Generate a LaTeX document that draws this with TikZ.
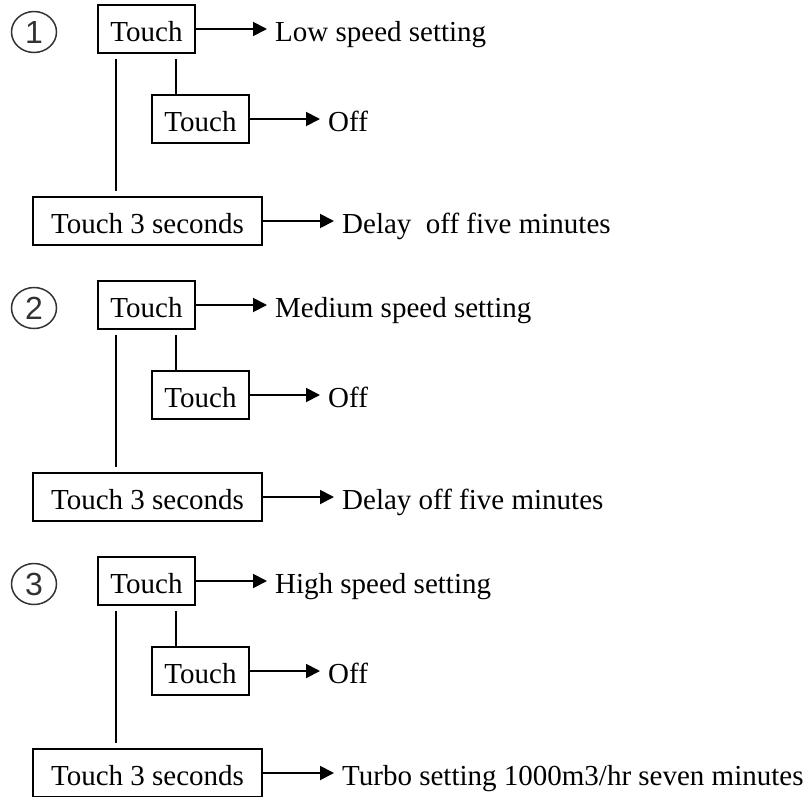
\documentclass[tikz,border=0pt]{standalone}
\usepackage{fontspec}
\setmainfont{Liberation Serif}
\newfontfamily\numfont{Liberation Sans}
\usetikzlibrary{arrows.meta,calc,shapes.geometric}
\newcommand\drawsec[5]{%
  \begin{scope}[shift={(0,#1)}]
    \node[num] (c#2) at (34,32) {#2};
    \node[box,minimum width=97pt] (t#2) at (146.5,29) {Touch};
    \node[box,minimum width=97pt] (m#2) at (200.5,119) {Touch};
    \node[box,minimum width=229pt] (b#2) at (147.5,221) {Touch 3 seconds};
    \node[lbl] (la#2) at (275,41) {#3};
    \node[lbl] (lb#2) at (328,131) {#4};
    \node[lbl] (lc#2) at (342,233) {#5};
  \end{scope}
  \draw[conn] ($(t#2.south west)+(19,5)$) -- ($(t#2.south west |- b#2.north)+(19,-5)$);
  \draw[conn] ($(t#2.south west)+(79,5)$) -- ($(t#2.south west |- m#2.north)+(79,0)$);
  \draw[arr] (t#2.east) -- (t#2.east -| la#2.west);
  \draw[arr] (m#2.east) -- (m#2.east -| lb#2.west);
  \draw[arr] (b#2.east) -- (b#2.east -| lc#2.west);
}
\begin{document}
\begin{tikzpicture}[x=1pt,y=-1pt,
  box/.style={draw,line width=1.9pt,inner sep=0pt,minimum height=48pt,text height=25pt,text depth=0pt,font=\fontsize{29}{34}\selectfont},
  lbl/.style={anchor=base west,inner sep=0pt,font=\fontsize{29}{34}\selectfont},
  conn/.style={line width=1.9pt},
  arr/.style={line width=1.9pt,-{Triangle[length=14pt,width=14pt]},shorten >=8pt},
  num/.style={ellipse,draw=black!80,line width=1.5pt,minimum width=45pt,minimum height=41pt,inner sep=0pt,text=black!80,font=\numfont\fontsize{32}{32}\selectfont}]
\useasboundingbox (0,0) rectangle (811,796);
\clip (0,0) rectangle (811,796);
\drawsec{0}{1}{Low speed setting}{Off}{Delay\ \ off five minutes}
\drawsec{276}{2}{Medium speed setting}{Off}{Delay off five minutes}
\drawsec{552}{3}{High speed setting}{Off}{Turbo setting 1000m3/hr seven minutes}
\end{tikzpicture}
\end{document}
